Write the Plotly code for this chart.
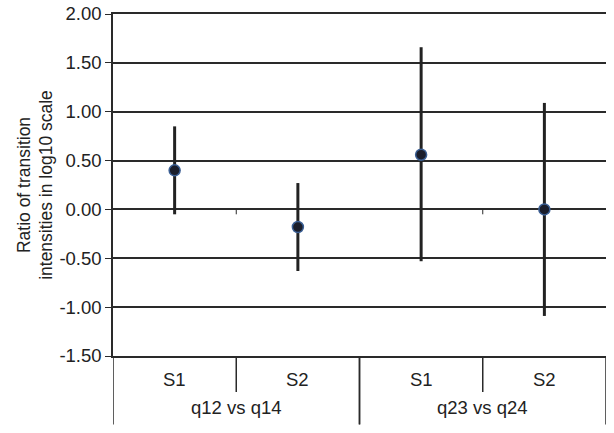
import plotly.graph_objects as go

# data
groups = ["q12 vs q14", "q12 vs q14", "q23 vs q24", "q23 vs q24"]
subgroups = ["S1", "S2", "S1", "S2"]
ratio = [0.40, -0.18, 0.56, 0.00]
err_plus = [0.45, 0.45, 1.10, 1.09]
err_minus = [0.45, 0.45, 1.09, 1.09]
y_ticks = [-1.5, -1.0, -0.5, 0.0, 0.5, 1.0, 1.5, 2.0]
y_ticktext = ["%.2f" % v for v in y_ticks]  # plain hyphen, like the original

xpos = list(range(len(subgroups)))
font = "Liberation Sans, Arial, sans-serif"
line_col = "#2a2a2a"
txt_col = "#222222"

fig = go.Figure()
fig.add_trace(go.Scatter(
    x=xpos, y=ratio, mode="markers",
    marker=dict(size=11, color="#1b1e2b", line=dict(color="#3b5f94", width=1.5)),
    error_y=dict(type="data", symmetric=False, array=err_plus, arrayminus=err_minus,
                 color="#222222", thickness=3, width=0),
    showlegend=False,
))

# category labels and divider lines below the plot
shapes = []
annotations = []
for i, s in enumerate(subgroups):
    annotations.append(dict(x=xpos[i], y=-0.07, xref="x", yref="paper", text=s,
                            showarrow=False, font=dict(size=18.5, color=txt_col),
                            yanchor="middle"))
group_names = []
for g in groups:
    if g not in group_names:
        group_names.append(g)
for g in group_names:
    idx = [i for i, gg in enumerate(groups) if gg == g]
    cx = (xpos[idx[0]] + xpos[idx[-1]]) / 2
    annotations.append(dict(x=cx, y=-0.152, xref="x", yref="paper", text=g,
                            showarrow=False, font=dict(size=18.5, color=txt_col),
                            yanchor="middle"))
    # group edges (long dividers)
    for edge in (xpos[idx[0]] - 0.5, xpos[idx[-1]] + 0.5):
        shapes.append(dict(type="line", xref="x", yref="paper", x0=edge, x1=edge,
                           y0=0, y1=-0.2, line=dict(color=line_col, width=1.5)))
    # subgroup dividers (short) + small tick at the zero line
    for k in idx[:-1]:
        b = xpos[k] + 0.5
        shapes.append(dict(type="line", xref="x", yref="paper", x0=b, x1=b,
                           y0=0, y1=-0.105, line=dict(color=line_col, width=1.5)))
        shapes.append(dict(type="line", xref="x", yref="y", x0=b, x1=b,
                           y0=0, y1=-0.05, line=dict(color=line_col, width=1)))

fig.update_layout(
    width=614, height=433,
    margin=dict(l=113, r=8, t=14, b=77),
    paper_bgcolor="white", plot_bgcolor="white",
    font=dict(family=font, size=18, color=txt_col),
    shapes=shapes, annotations=annotations,
    # mirrored x line gives the top (2.00) gridline that plotly drops at the edge
    xaxis=dict(range=[-0.5, 3.5], showticklabels=False, showgrid=False,
               zeroline=False, showline=True, mirror=True,
               linecolor=line_col, linewidth=1.5, ticks=""),
    yaxis=dict(range=[-1.5, 2.0], tickvals=y_ticks, ticktext=y_ticktext,
               automargin=False, ticklabeloverflow="allow",
               showgrid=True, gridcolor=line_col, gridwidth=1.5,
               zeroline=True, zerolinecolor=line_col, zerolinewidth=1.5,
               showline=True, linecolor=line_col, linewidth=1.5,
               ticks="outside", ticklen=6, tickcolor=line_col,
               tickfont=dict(size=18.5, color=txt_col),
               title=dict(text="Ratio of transition<br>intensities in log10 scale",
                          font=dict(size=17.5, color=txt_col), standoff=2)),
)

# drop the default 8px page margin so the figure sits at the window corner
fig.write_html("out.html", config={"displayModeBar": False},
               post_script="document.body.style.margin='0';document.body.style.overflow='hidden';")
